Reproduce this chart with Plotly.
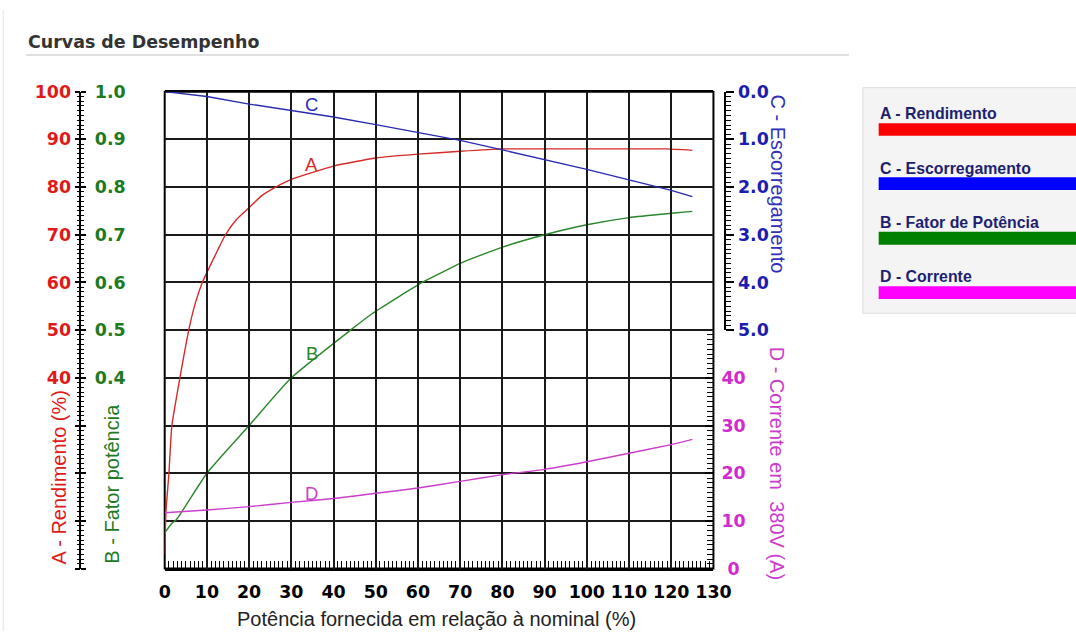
import plotly.graph_objects as go

# The photographed page shows the figure behind an 8 px body margin and at ~0.975 scale,
# so layout positions (given below in target-picture pixels) are converted accordingly.
S = 0.975
OFF = 8
W, H = round(1076 / S - OFF), round(633 / S - OFF)

# ---------------- data ----------------
pot_A = [0, 0.3, 1, 1.7, 3.6, 5.7, 7.2, 8.9, 10, 12.4, 14.4, 17, 20, 23, 26.3, 30, 40, 50, 60, 70, 80, 90, 100, 110, 119, 125]
rend_A = [3, 12, 20, 30, 40, 50, 55.5, 60, 62.1, 66.5, 70, 73.2, 75.7, 78.2, 80, 81.6, 84.4, 86.1, 86.9, 87.5, 88, 88, 88, 88, 88, 87.7]

pot_B = [0, 1.7, 2.8, 10, 20, 30, 44, 49.2, 61, 65, 70, 80, 90, 100, 110, 120, 125]
fp_B = [0.075, 0.095, 0.103, 0.20, 0.30, 0.40, 0.50, 0.535, 0.60, 0.618, 0.64, 0.674, 0.70, 0.721, 0.736, 0.745, 0.749]

pot_C = [0, 10, 20, 30, 40, 50, 60, 70, 80, 90, 100, 110, 120, 125]
esc_C = [0.0, 0.10, 0.26, 0.40, 0.53, 0.69, 0.85, 1.02, 1.22, 1.42, 1.63, 1.85, 2.07, 2.2]

pot_D = [0, 10, 20, 30, 40, 50, 60, 70, 80, 90, 100, 110, 120, 125]
cor_D = [11.7, 12.3, 13.0, 13.9, 14.7, 15.8, 16.9, 18.3, 19.7, 20.8, 22.4, 24.2, 26.0, 27.1]

x_ticks = list(range(0, 131, 10))
A_ticks = list(range(0, 101, 10))
A_text = [str(v) if v >= 40 else "" for v in A_ticks]
B_ticks = [i / 10 for i in range(0, 11)]
B_text = [f"{v:.1f}" if v >= 0.4 else "" for v in B_ticks]
C_ticks = [0, 1, 2, 3, 4, 5]
C_text = [f"{v:.1f}" for v in C_ticks]
D_ticks = [0, 10, 20, 30, 40]
D_text = ["\u00a00", "10", "20", "30", "40"]

legend_items = ["A - Rendimento", "C - Escorregamento", "B - Fator de Potência", "D - Corrente"]
legend_colors = ["#ff0000", "#0000ff", "#008000", "#ff00ff"]

# ---------------- styling ----------------
RED, GREEN, BLUE, MAG = "#d42a2a", "#2a862a", "#2b2bb0", "#cc3fcc"
RED_T, GREEN_T, BLUE_T, MAG_T = "#e01a1a", "#1e7a1e", "#1c1cb0", "#d02ad0"
TICKFONT = "DejaVu Sans"
TXT = "Liberation Sans, Arial, sans-serif"

px0, px1 = 166, 713
py_top, py_mid, py_bot = 90, 330, 570


def fx(p):
    return (p / S - OFF) / W


def fy(p):
    return 1 - (p / S - OFF) / H


def sz(v):
    return v / S


def tickfont(color):
    return dict(family=TICKFONT, size=sz(17), color=color, weight="bold")


fig = go.Figure()
fig.add_trace(go.Scatter(x=pot_A, y=rend_A, mode="lines",
                         line=dict(color=RED, width=1.4, shape="spline", smoothing=0.5),
                         xaxis="x", yaxis="y", hoverinfo="skip", cliponaxis=False))
fig.add_trace(go.Scatter(x=pot_B, y=fp_B, mode="lines",
                         line=dict(color=GREEN, width=1.4, shape="spline", smoothing=0.5),
                         xaxis="x", yaxis="y2", hoverinfo="skip"))
fig.add_trace(go.Scatter(x=pot_C, y=esc_C, mode="lines", line=dict(color=BLUE, width=1.4),
                         xaxis="x", yaxis="y3", hoverinfo="skip"))
fig.add_trace(go.Scatter(x=pot_D, y=cor_D, mode="lines",
                         line=dict(color=MAG, width=1.4, shape="spline", smoothing=0.5),
                         xaxis="x", yaxis="y4", hoverinfo="skip"))

grid = dict(gridcolor="#1a1a1a", gridwidth=1.75)

fig.update_layout(
    width=W, height=H, autosize=False,
    margin=dict(l=0, r=0, t=0, b=0),
    paper_bgcolor="white", plot_bgcolor="rgba(0,0,0,0)",
    showlegend=False,
    xaxis=dict(domain=[fx(px0), fx(px1)], range=[0, 130], anchor="y",
               tickmode="array", tickvals=x_ticks, ticktext=[str(v) for v in x_ticks],
               ticks="inside", ticklen=sz(7), tickwidth=1, tickcolor="black",
               minor=dict(tickmode="linear", tick0=0, dtick=1, ticks="inside", ticklen=sz(7),
                          tickwidth=1, tickcolor="black", showgrid=False),
               showgrid=True, **grid, zeroline=False,
               showline=True, linecolor="black", linewidth=2, mirror=True, layer="below traces",
               ticklabelstandoff=6, tickfont=tickfont("black")),
    yaxis=dict(domain=[fy(py_bot), fy(py_top)], range=[0, 100], anchor="free", position=fx(82),
               side="left", tickmode="array", tickvals=A_ticks, ticktext=A_text,
               ticks="outside", ticklen=sz(5), tickwidth=1.5, tickcolor="black",
               minor=dict(tickmode="linear", tick0=0, dtick=1, ticks="outside", ticklen=sz(3),
                          tickwidth=1, tickcolor="black", showgrid=False),
               showline=True, linecolor="black", linewidth=1.5,
               showgrid=True, **grid, zeroline=False, ticklabelstandoff=0,
               tickfont=tickfont(RED_T)),
    yaxis2=dict(overlaying="y", range=[0, 1], anchor="free", position=fx(82), side="right",
                tickmode="array", tickvals=B_ticks, ticktext=B_text,
                ticks="outside", ticklen=sz(5), tickwidth=1.5, tickcolor="black",
                minor=dict(tickmode="linear", tick0=0, dtick=0.01, ticks="outside", ticklen=sz(3),
                           tickwidth=1, tickcolor="black", showgrid=False),
                showline=True, linecolor="black", linewidth=1.5,
                showgrid=False, zeroline=False, ticklabelstandoff=5,
                tickfont=tickfont(GREEN_T)),
    yaxis3=dict(domain=[fy(py_mid), fy(py_top)], range=[5, 0], anchor="free", position=fx(725),
                side="right", tickmode="array", tickvals=C_ticks, ticktext=C_text,
                ticks="outside", ticklen=sz(8), tickwidth=1.5, tickcolor="black",
                minor=dict(tickmode="linear", tick0=0, dtick=0.1, ticks="outside", ticklen=sz(5),
                           tickwidth=1, tickcolor="black", showgrid=False),
                showline=True, linecolor="black", linewidth=1.5,
                showgrid=False, zeroline=False, ticklabelstandoff=0,
                tickfont=tickfont(BLUE_T)),
    yaxis4=dict(domain=[fy(py_bot), fy(py_mid)], range=[0, 50], anchor="free", position=fx(px1),
                side="right", tickmode="array", tickvals=D_ticks, ticktext=D_text,
                ticks="inside", ticklen=sz(8), tickwidth=1.5, tickcolor="black",
                minor=dict(tickmode="linear", tick0=0, dtick=1, ticks="inside", ticklen=sz(6),
                           tickwidth=1, tickcolor="black", showgrid=False),
                showline=False, showgrid=False, zeroline=False, ticklabelstandoff=7,
                tickfont=tickfont(MAG_T)),
)

shapes = [
    # plot frame (under the curves so the steep start of A stays visible)
    dict(type="rect", xref="paper", yref="paper", x0=fx(px0), x1=fx(px1), y0=fy(py_bot), y1=fy(py_top),
         line=dict(color="black", width=2), fillcolor="rgba(0,0,0,0)", layer="below"),
    # title underline
    dict(type="line", xref="paper", yref="paper", x0=fx(28), x1=fx(848), y0=fy(53), y1=fy(53),
         line=dict(color="#d6d6d6", width=1.5)),
    # left page border
    dict(type="line", xref="paper", yref="paper", x0=fx(5), x1=fx(5), y0=0, y1=1,
         line=dict(color="#e4e4e4", width=1)),
    # legend panel
    dict(type="rect", xref="paper", yref="paper", x0=fx(862), x1=1.01, y0=fy(313), y1=fy(86),
         line=dict(color="#dcdcdc", width=1), fillcolor="#f4f4f4", layer="below"),
]
annotations = [
    dict(text="<b>Curvas de Desempenho</b>", x=fx(28), y=fy(40), xref="paper", yref="paper",
         xanchor="left", yanchor="middle", showarrow=False,
         font=dict(family="DejaVu Sans", size=sz(17), color="#333333")),
    dict(text="Potência fornecida em relação à nominal (%)", x=fx(437), y=fy(621), xref="paper",
         yref="paper", xanchor="center", yanchor="middle", showarrow=False,
         font=dict(family=TXT, size=sz(19.5), color="#222222")),
    dict(text="A - Rendimento (%)", x=fx(61), y=fy(478), xref="paper", yref="paper", textangle=-90,
         xanchor="center", yanchor="middle", showarrow=False,
         font=dict(family=TXT, size=sz(19.5), color=RED_T)),
    dict(text="B - Fator potência", x=fx(114), y=fy(485), xref="paper", yref="paper", textangle=-90,
         xanchor="center", yanchor="middle", showarrow=False,
         font=dict(family=TXT, size=sz(19.5), color=GREEN_T)),
    dict(text="C - Escorregamento", x=fx(777), y=fy(183), xref="paper", yref="paper", textangle=90,
         xanchor="center", yanchor="middle", showarrow=False,
         font=dict(family=TXT, size=sz(19.5), color="#3030b8")),
    dict(text="D - Corrente em\u00a0 380V (A)", x=fx(776), y=fy(464), xref="paper", yref="paper",
         textangle=90, xanchor="center", yanchor="middle", showarrow=False,
         font=dict(family=TXT, size=sz(19.5), color="#cc3acc")),
    # curve labels
    dict(text="A", x=34.8, y=84.7, xref="x", yref="y", showarrow=False,
         font=dict(family=TXT, size=sz(18), color=RED)),
    dict(text="B", x=34.8, y=0.451, xref="x", yref="y2", showarrow=False,
         font=dict(family=TXT, size=sz(18), color=GREEN)),
    dict(text="C", x=34.8, y=0.277, xref="x", yref="y3", showarrow=False,
         font=dict(family=TXT, size=sz(18), color=BLUE)),
    dict(text="D", x=34.8, y=15.8, xref="x", yref="y4", showarrow=False,
         font=dict(family=TXT, size=sz(18), color=MAG)),
]

legend_text_y = [112, 167, 222, 276]
legend_bar_y = [(121.7, 134.3), (176, 189), (231, 244), (285.7, 298.7)]
for name, col, ty, (b0, b1) in zip(legend_items, legend_colors, legend_text_y, legend_bar_y):
    annotations.append(dict(text=f"<b>{name}</b>", x=fx(877), y=fy(ty), xref="paper", yref="paper",
                            xanchor="left", yanchor="middle", showarrow=False,
                            font=dict(family=TXT, size=sz(15.5), color="#1f1f70")))
    shapes.append(dict(type="rect", xref="paper", yref="paper", x0=fx(877.7), x1=1.01,
                       y0=fy(b1), y1=fy(b0), line=dict(width=0), fillcolor=col, layer="below"))

fig.update_layout(shapes=shapes, annotations=annotations)
fig.write_html("out.html")
